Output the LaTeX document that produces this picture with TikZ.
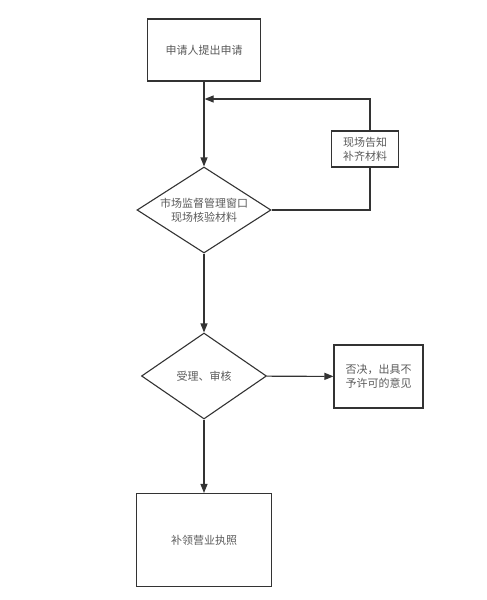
\documentclass[tikz,border=0pt]{standalone}
\usepackage{fontspec}
\newfontfamily\cjk{Noto Sans CJK SC}
\usetikzlibrary{shapes.geometric,arrows.meta}
\definecolor{linegray}{HTML}{333333}
\definecolor{textgray}{HTML}{5A5A5A}
\tikzset{
  stepbox/.style={draw=linegray, line width=1.1pt, text=textgray, align=center,
    inner sep=0pt, font=\cjk\fontsize{11}{14}\selectfont},
  decision/.style={stepbox, diamond, aspect=1.56},
  flow/.style={draw=linegray, line width=1.1pt},
}
\begin{document}
\begin{tikzpicture}[x=1pt, y=-1pt, >={Triangle[length=9pt,width=7pt]}]
    \useasboundingbox (0,0) rectangle (487,600);

    % 流程の節点
    \node[stepbox, minimum width=113pt, minimum height=62pt] (apply) at (204,50) {申请人提出申请};
    \node[decision, minimum width=134pt, minimum height=86pt] (check) at (204,210) {市场监督管理窗口\\现场核验材料};
    \node[stepbox, minimum width=67pt, minimum height=36pt] (notice) at (365,149) {现场告知\\补齐材料};
    \node[decision, minimum width=125pt, minimum height=86pt] (review) at (204,376) {受理、审核};
    \node[stepbox, minimum width=89pt, minimum height=63pt] (reject) at (378.5,376.5) {否决，出具不\\予许可的意见};
    \node[stepbox, minimum width=135pt, minimum height=93pt] (license) at (204,540) {补领营业执照};

    % 補正の戻り経路
    \coordinate (fb) at (370,210);
    \coordinate (fbtop) at (370,99);
    \coordinate (merge) at (204.6,99);

    % 矢印
    \draw[flow, ->] (apply) -- (check);
    \draw[flow] (check.east) -- (fb) -- (notice.south -| fb);
    \draw[flow, ->] (notice.north -| fb) -- (fbtop) -- (merge);
    \draw[flow, ->] (check) -- (review);
    \draw[flow, ->] (review) -- (reject);
    \draw[flow, ->] (review) -- (license);
\end{tikzpicture}
\end{document}
